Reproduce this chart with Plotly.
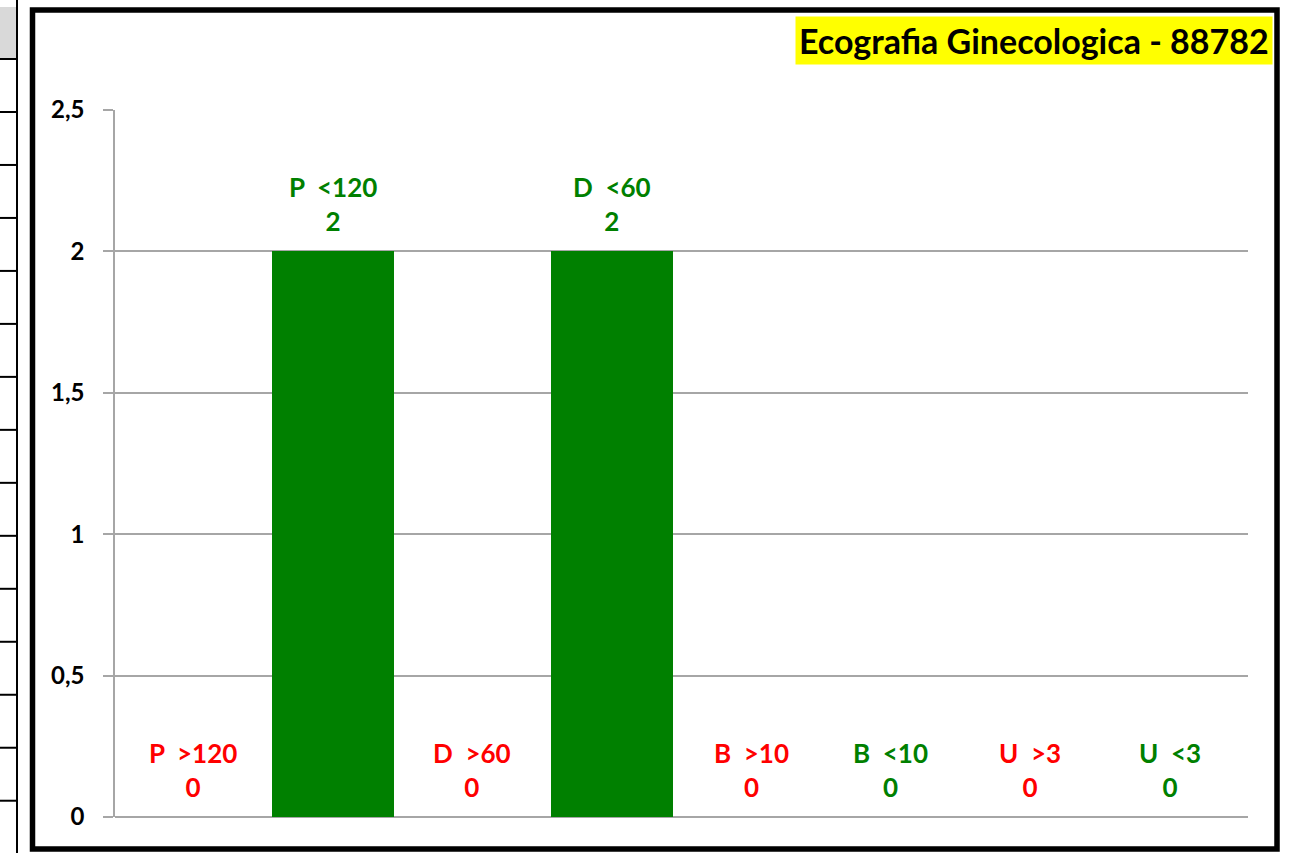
import plotly.graph_objects as go

categories = ["P >120", "P <120", "D >60", "D <60", "B >10", "B <10", "U >3", "U <3"]
values = [0, 2, 0, 2, 0, 0, 0, 0]
label_colors = ["#FF0000", "#008000", "#FF0000", "#008000", "#FF0000", "#008000", "#FF0000", "#008000"]
title_text = "Ecografia Ginecologica - 88782"
y_ticks = [0, 0.5, 1, 1.5, 2, 2.5]

W, H = 1295, 853
PL, PR, PT, PB = 115, 1248, 110, 817
FONT = "Lato"

def px_x(x):
    return (x - PL) / (PR - PL)

def px_y(y):
    return (PB - y) / (PB - PT)

fig = go.Figure()
fig.add_trace(go.Bar(
    x=categories, y=values, width=0.875,
    marker=dict(color="#008000", line=dict(width=0)),
    hoverinfo="skip",
))

annotations = []
for c, v, col in zip(categories, values, label_colors):
    annotations.append(dict(
        x=c, y=v, xref="x", yref="y", xanchor="center", yanchor="bottom", yshift=12,
        text="<b>" + c.replace(" ", "\u00a0\u00a0") + "<br>" + str(v) + "</b>",
        showarrow=False, align="center",
        font=dict(family=FONT, size=26, color=col),
    ))

shapes = []
# spreadsheet fragment at left edge
shapes.append(dict(type="rect", xref="paper", yref="paper", x0=px_x(0), x1=px_x(16), y0=px_y(7), y1=px_y(58),
                   fillcolor="#D9D9D9", line=dict(width=0), layer="below"))
shapes.append(dict(type="line", xref="paper", yref="paper", x0=px_x(17), x1=px_x(17), y0=px_y(0), y1=px_y(853),
                   line=dict(color="#000000", width=2)))
for k in range(15):
    yy = 59 + 52.98 * k
    shapes.append(dict(type="line", xref="paper", yref="paper", x0=px_x(0), x1=px_x(17), y0=px_y(yy), y1=px_y(yy),
                       line=dict(color="#000000", width=2)))
# chart border
shapes.append(dict(type="rect", xref="paper", yref="paper", x0=px_x(32.5), x1=px_x(1277), y0=px_y(10), y1=px_y(849),
                   line=dict(color="#000000", width=5.5), fillcolor="rgba(0,0,0,0)"))

annotations.append(dict(text="<b>" + title_text + "</b>", xref="paper", yref="paper",
                        x=px_x(1273), y=px_y(16), xanchor="right", yanchor="top", showarrow=False,
                        bgcolor="#FFFF00", borderpad=3,
                        font=dict(family=FONT, size=34, color="#000000")))

fig.update_layout(
    width=W, height=H, autosize=False,
    margin=dict(l=PL, r=W - PR, t=PT, b=H - PB, pad=0),
    paper_bgcolor="white", plot_bgcolor="white",
    separators=",.",
    showlegend=False,
    bargap=0,
    font=dict(family=FONT, color="#000000"),
    xaxis=dict(range=[-0.56, 7.56], showticklabels=False, ticks="", showgrid=False, zeroline=False,
               showline=False, fixedrange=True),
    yaxis=dict(range=[0, 2.5], tickvals=y_ticks, showgrid=True, gridcolor="#A6A6A6", gridwidth=1.5,
               zeroline=True, zerolinecolor="#A6A6A6", zerolinewidth=2,
               showline=True, linecolor="#A6A6A6", linewidth=1.5,
               ticks="outside", ticklen=10, tickcolor="#A6A6A6", tickwidth=1.5,
               ticklabelstandoff=14,
               tickfont=dict(family=FONT, size=24, color="#000000", weight="bold"), fixedrange=True),
    shapes=shapes,
    annotations=annotations,
)

fig.write_html("out.html", config={"displayModeBar": False},
               post_script="document.body.style.margin='0';document.body.style.overflow='hidden';")
